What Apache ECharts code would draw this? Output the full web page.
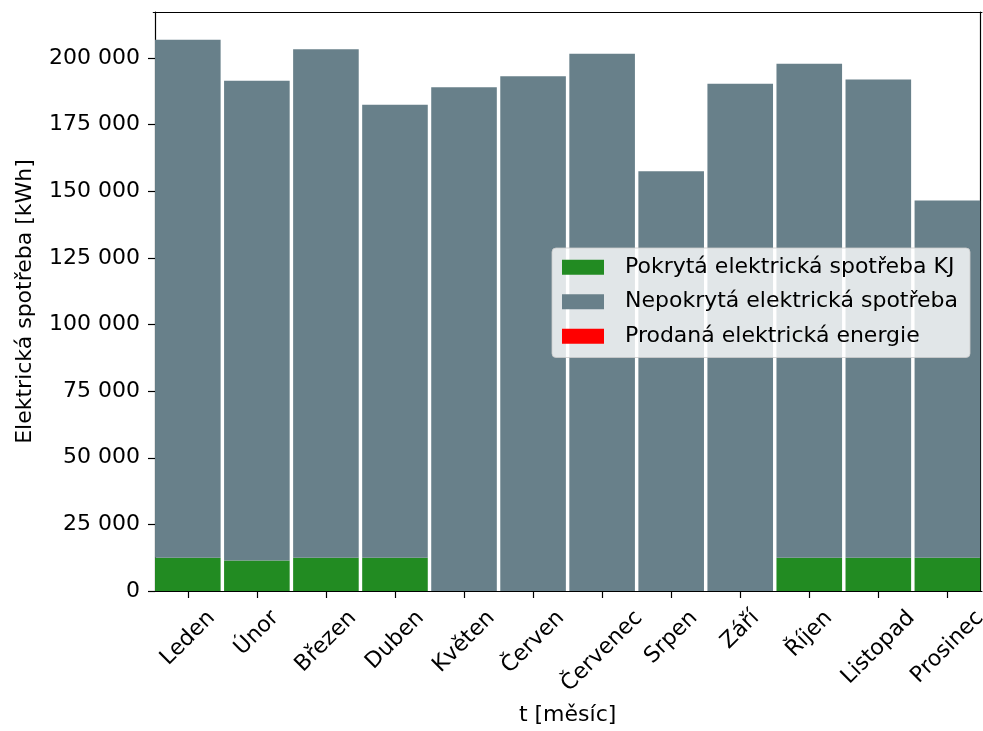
<!DOCTYPE html>
<html>
<head>
<meta charset="utf-8">
<script src="https://cdn.jsdelivr.net/npm/echarts@6/dist/echarts.min.js"></script>
<style>html,body{margin:0;padding:0;background:#fff}#c{width:983px;height:731px}</style>
</head>
<body>
<div id="c"></div>
<script>
const months = ['Leden','Únor','Březen','Duben','Květen','Červen','Červenec','Srpen','Září','Říjen','Listopad','Prosinec'];
const covered = [12500, 11400, 12500, 12500, 0, 0, 0, 0, 0, 12500, 12500, 12500];
const uncovered = [194400, 180100, 190800, 170000, 189100, 193200, 201600, 157500, 190400, 185400, 179500, 134100];
const sold = [0, 0, 0, 0, 0, 0, 0, 0, 0, 0, 0, 0];
const yTicks = [0, 25000, 50000, 75000, 100000, 125000, 150000, 175000, 200000];

const FONT = 'DejaVu Sans';
const FS = 22;
const fmt = v => String(v).replace(/\B(?=(\d{3})+(?!\d))/g, ' ');

const chart = echarts.init(document.getElementById('c'), null, {renderer: 'canvas'});
const yMax = 217300;
const opt = {
  animation: false,
  grid: {left: 153.3, right: 1.1, top: 12, bottom: 138},
  xAxis: [{
    type: 'category', data: months, boundaryGap: true,
    axisLine: {show: true, onZero: false, lineStyle: {color: '#000', width: 1.2}},
    axisTick: {show: true, alignWithLabel: true, length: 7, lineStyle: {color: '#000', width: 1.2}},
    axisLabel: {show: false},
    name: 't [měsíc]', nameLocation: 'middle', nameGap: 124,
    nameTextStyle: {fontFamily: FONT, fontSize: FS, color: '#000', verticalAlign: 'middle'}
  }, {
    type: 'category', data: months, position: 'top',
    axisLine: {show: true, onZero: false, lineStyle: {color: '#000', width: 1.2}},
    axisTick: {show: false}, axisLabel: {show: false}
  }],
  yAxis: [{
    type: 'value', min: 0, max: yMax, interval: 25000, offset: -1.7,
    axisLine: {show: true, onZero: false, lineStyle: {color: '#000', width: 1.2}},
    axisTick: {show: true, length: 7, lineStyle: {color: '#000', width: 1.2}, customValues: yTicks},
    axisLabel: {fontFamily: FONT, fontSize: FS, color: '#000', margin: 15, formatter: fmt, customValues: yTicks},
    splitLine: {show: false},
    name: 'Elektrická spotřeba [kWh]', nameLocation: 'middle', nameGap: 130,
    nameTextStyle: {fontFamily: FONT, fontSize: FS, color: '#000', verticalAlign: 'middle'}
  }, {
    type: 'value', min: 0, max: yMax, interval: 25000, position: 'right', offset: -1.7,
    axisLine: {show: true, onZero: false, lineStyle: {color: '#000', width: 1.2}},
    axisTick: {show: false}, axisLabel: {show: false}, splitLine: {show: false}
  }],
  legend: {
    orient: 'vertical', left: 552, top: 248,
    padding: [7, 12, 9, 10],
    itemWidth: 42, itemHeight: 15, itemGap: 10,
    icon: 'rect',
    backgroundColor: 'rgba(255,255,255,0.8)',
    borderColor: 'rgba(204,204,204,0.8)', borderWidth: 1, borderRadius: 4,
    itemStyle: {borderWidth: 0},
    textStyle: {fontFamily: FONT, fontSize: FS, color: '#000', lineHeight: 24.5, padding: [0, 0, 0, 16]},
    data: ['Pokrytá elektrická spotřeba KJ', 'Nepokrytá elektrická spotřeba', 'Prodaná elektrická energie']
  },
  series: [
    {name: 'Pokrytá elektrická spotřeba KJ', type: 'bar', stack: 'a', data: covered,
     barCategoryGap: '5%', itemStyle: {color: '#228b22'}},
    {name: 'Nepokrytá elektrická spotřeba', type: 'bar', stack: 'a', data: uncovered,
     barCategoryGap: '5%', itemStyle: {color: '#68808a'}},
    {name: 'Prodaná elektrická energie', type: 'bar', stack: 'a', data: sold,
     barCategoryGap: '5%', itemStyle: {color: '#ff0000'}}
  ]
};
chart.setOption(opt);

// rotated, centered x tick labels (matplotlib style rotation=45, ha=center)
const cv = document.createElement('canvas').getContext('2d');
cv.font = FS + 'px "' + FONT + '"';
const y0 = chart.convertToPixel({yAxisIndex: 0}, 0);
const s = Math.SQRT1_2;
const g = months.map((m, i) => {
  const x = chart.convertToPixel({xAxisIndex: 0}, m);
  const w = cv.measureText(m).width;
  const h = FS * 1.164;
  const boxH = (w + h) * s;
  return {
    type: 'text', x: x, y: y0 + 14.5 + boxH / 2, rotation: Math.PI / 4,
    style: {text: m, fontFamily: FONT, fontSize: FS, fill: '#000', align: 'center', verticalAlign: 'middle'}
  };
});
chart.setOption({graphic: g});
</script>
</body>
</html>
